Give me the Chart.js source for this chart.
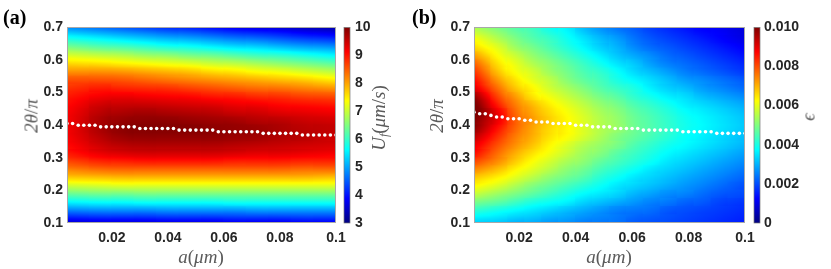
<!DOCTYPE html>
<html><head><meta charset="utf-8">
<script src="https://cdn.jsdelivr.net/npm/chart.js@4.4.1/dist/chart.umd.min.js"></script>
<style>
html,body{margin:0;padding:0;background:#fff;}
#wrap{position:relative;width:831px;height:269px;overflow:hidden;}
canvas{position:absolute;top:0;}
.lbl{position:absolute;white-space:nowrap;font-family:'Liberation Serif','Times New Roman',serif;color:#5a5a5a;line-height:1;font-size:19px;}
.rot{transform:translate(-50%,-50%) rotate(-90deg);}
.ctr{transform:translate(-50%,-50%);}
.lbl i{font-style:italic;}
.panel{font-weight:bold;color:#000;font-size:20px;}
sub{font-size:12px;vertical-align:-3px;}
</style></head>
<body><div id="wrap">
<canvas id="ca" width="411" height="269" style="left:0"></canvas>
<canvas id="cbv" width="420" height="269" style="left:411px"></canvas>
<div class="lbl panel" style="left:3px;top:7px">(a)</div>
<div class="lbl panel" style="left:412px;top:7px">(b)</div>
<div class="lbl rot" style="left:31px;top:116px"><i>2θ</i>/<i>π</i></div>
<div class="lbl ctr" style="left:201px;top:256px"><i>a</i>(<i>μm</i>)</div>
<div class="lbl rot" style="left:379px;top:118px"><i>U<sub>f</sub></i>(<i>μm</i>/<i>s</i>)</div>
<div class="lbl rot" style="left:436px;top:116px"><i>2θ</i>/<i>π</i></div>
<div class="lbl ctr" style="left:609px;top:256px"><i>a</i>(<i>μm</i>)</div>
<div class="lbl rot" style="left:808px;top:117px"><i>ϵ</i></div>
</div>
<script>
// ---- data ----
const yEdges = [0.1,0.125,0.15,0.175,0.2,0.225,0.25,0.275,0.3,0.325,0.35,0.375,0.4,0.425,0.45,0.475,0.5,0.525,0.55,0.575,0.6,0.625,0.65,0.675,0.7];
const aCols = [0.008,0.016,0.024,0.032,0.040,0.048,0.056,0.064,0.072,0.080,0.088,0.096];
const bCols = [0.007,0.013,0.019,0.025,0.031,0.037,0.043,0.049,0.055,0.061,0.067,0.073,0.079,0.085,0.091,0.097];
// U_f (um/s), rows bottom -> top
const uGrid = [
[3.95,4.0,4.0,4.0,4.05,4.05,4.05,4.1,4.1,4.1,4.15,4.15],
[4.75,4.8,4.8,4.8,4.85,4.85,4.85,4.85,4.9,4.9,4.9,4.9],
[5.55,5.6,5.6,5.65,5.65,5.65,5.65,5.7,5.7,5.7,5.7,5.7],
[6.3,6.35,6.35,6.4,6.4,6.4,6.4,6.4,6.4,6.4,6.4,6.4],
[7.0,7.05,7.1,7.1,7.1,7.1,7.1,7.1,7.1,7.1,7.1,7.1],
[7.7,7.75,7.8,7.8,7.8,7.8,7.8,7.8,7.8,7.8,7.8,7.75],
[8.25,8.35,8.4,8.4,8.4,8.4,8.4,8.4,8.4,8.4,8.35,8.35],
[8.7,8.85,8.9,8.95,8.95,8.95,8.95,8.9,8.9,8.9,8.85,8.85],
[9.05,9.25,9.35,9.4,9.4,9.4,9.4,9.35,9.3,9.3,9.25,9.2],
[9.2,9.45,9.6,9.65,9.65,9.65,9.65,9.6,9.55,9.5,9.45,9.4],
[9.3,9.6,9.8,9.85,9.85,9.85,9.85,9.8,9.75,9.65,9.6,9.5],
[9.35,9.7,9.9,9.95,9.95,9.95,9.9,9.85,9.8,9.7,9.6,9.55],
[9.35,9.7,9.85,9.9,9.9,9.85,9.8,9.75,9.65,9.6,9.5,9.45],
[9.3,9.6,9.7,9.75,9.7,9.65,9.6,9.5,9.45,9.35,9.3,9.25],
[9.2,9.45,9.5,9.5,9.45,9.4,9.35,9.25,9.2,9.1,9.05,9.0],
[9.05,9.2,9.25,9.2,9.15,9.1,9.0,8.95,8.85,8.8,8.7,8.65],
[8.85,8.95,8.9,8.85,8.8,8.7,8.6,8.5,8.4,8.35,8.25,8.15],
[8.6,8.6,8.55,8.45,8.35,8.25,8.15,8.05,7.95,7.85,7.75,7.6],
[8.15,8.15,8.1,8.0,7.9,7.8,7.65,7.55,7.4,7.3,7.15,7.0],
[7.65,7.6,7.5,7.4,7.3,7.2,7.05,6.95,6.8,6.65,6.5,6.35],
[7.1,7.0,6.9,6.75,6.65,6.5,6.4,6.25,6.1,6.0,5.85,5.7],
[6.45,6.3,6.2,6.05,5.9,5.8,5.65,5.5,5.4,5.25,5.1,5.0],
[5.8,5.65,5.5,5.35,5.2,5.1,4.95,4.8,4.7,4.55,4.4,4.3],
[5.1,4.95,4.8,4.65,4.5,4.4,4.25,4.1,4.0,3.9,3.75,3.65]
];
// epsilon, rows bottom -> top
const epsGrid = [
[0.0035,0.0034,0.0032,0.0031,0.0029,0.0028,0.0026,0.0025,0.0024,0.0022,0.0021,0.0020,0.0019,0.0018,0.0017,0.0016],
[0.0041,0.0039,0.0037,0.0035,0.0033,0.0031,0.0029,0.0027,0.0025,0.0024,0.0023,0.0021,0.0020,0.0019,0.0018,0.0017],
[0.0048,0.0046,0.0043,0.0040,0.0038,0.0036,0.0033,0.0031,0.0029,0.0027,0.0025,0.0024,0.0022,0.0021,0.0019,0.0018],
[0.0055,0.0052,0.0049,0.0046,0.0043,0.0040,0.0037,0.0035,0.0033,0.0030,0.0028,0.0026,0.0025,0.0023,0.0021,0.0020],
[0.0061,0.0058,0.0054,0.0050,0.0047,0.0044,0.0041,0.0038,0.0035,0.0033,0.0031,0.0029,0.0027,0.0025,0.0023,0.0021],
[0.0066,0.0063,0.0059,0.0055,0.0051,0.0048,0.0045,0.0041,0.0038,0.0035,0.0033,0.0031,0.0029,0.0027,0.0025,0.0023],
[0.0072,0.0068,0.0063,0.0059,0.0055,0.0051,0.0048,0.0044,0.0041,0.0038,0.0035,0.0033,0.0031,0.0029,0.0027,0.0025],
[0.0078,0.0073,0.0067,0.0062,0.0058,0.0054,0.0051,0.0047,0.0044,0.0041,0.0038,0.0035,0.0033,0.0031,0.0029,0.0027],
[0.0083,0.0076,0.0070,0.0065,0.0061,0.0057,0.0053,0.0050,0.0046,0.0043,0.0040,0.0037,0.0035,0.0033,0.0031,0.0029],
[0.0086,0.0079,0.0073,0.0068,0.0063,0.0059,0.0055,0.0052,0.0049,0.0045,0.0042,0.0039,0.0037,0.0035,0.0033,0.0031],
[0.0090,0.0082,0.0075,0.0070,0.0065,0.0062,0.0058,0.0054,0.0050,0.0047,0.0044,0.0041,0.0038,0.0036,0.0034,0.0032],
[0.0094,0.0085,0.0077,0.0071,0.0066,0.0063,0.0059,0.0055,0.0052,0.0048,0.0045,0.0042,0.0039,0.0037,0.0035,0.0033],
[0.0096,0.0088,0.0078,0.0072,0.0067,0.0063,0.0059,0.0055,0.0052,0.0048,0.0045,0.0042,0.0039,0.0037,0.0035,0.0033],
[0.0098,0.0088,0.0077,0.0071,0.0066,0.0062,0.0058,0.0054,0.0051,0.0047,0.0044,0.0041,0.0038,0.0036,0.0034,0.0032],
[0.0096,0.0084,0.0075,0.0069,0.0064,0.0060,0.0056,0.0052,0.0049,0.0045,0.0042,0.0039,0.0036,0.0034,0.0032,0.0030],
[0.0092,0.0080,0.0072,0.0065,0.0061,0.0057,0.0053,0.0049,0.0046,0.0042,0.0039,0.0036,0.0034,0.0031,0.0029,0.0027],
[0.0086,0.0076,0.0068,0.0063,0.0058,0.0054,0.0050,0.0046,0.0043,0.0040,0.0036,0.0033,0.0031,0.0028,0.0026,0.0024],
[0.0082,0.0072,0.0065,0.0060,0.0056,0.0051,0.0047,0.0044,0.0040,0.0037,0.0034,0.0031,0.0028,0.0026,0.0024,0.0022],
[0.0078,0.0068,0.0062,0.0058,0.0053,0.0049,0.0045,0.0042,0.0038,0.0034,0.0031,0.0028,0.0025,0.0023,0.0021,0.0019],
[0.0074,0.0065,0.0060,0.0055,0.0051,0.0047,0.0043,0.0039,0.0035,0.0032,0.0028,0.0025,0.0023,0.0021,0.0019,0.0017],
[0.0069,0.0062,0.0057,0.0052,0.0048,0.0044,0.0040,0.0036,0.0032,0.0029,0.0026,0.0023,0.0021,0.0019,0.0017,0.0015],
[0.0064,0.0059,0.0053,0.0049,0.0045,0.0041,0.0037,0.0033,0.0030,0.0026,0.0023,0.0021,0.0019,0.0017,0.0015,0.0013],
[0.0060,0.0055,0.0050,0.0046,0.0043,0.0039,0.0035,0.0031,0.0028,0.0024,0.0021,0.0019,0.0017,0.0015,0.0013,0.0011],
[0.0055,0.0051,0.0047,0.0044,0.0040,0.0037,0.0032,0.0028,0.0025,0.0022,0.0019,0.0017,0.0015,0.0013,0.0012,0.0010]
];
// optimal-angle dots
const dotX = [0.004,0.006,0.008,0.010,0.012,0.014,0.016,0.018,0.020,0.022,0.024,0.026,0.028,0.030,0.032,0.034,0.036,0.038,0.040,0.042,0.044,0.046,0.048,0.050,0.052,0.054,0.056,0.058,0.060,0.062,0.064,0.066,0.068,0.070,0.072,0.074,0.076,0.078,0.080,0.082,0.084,0.086,0.088,0.090,0.092,0.094,0.096,0.098,0.100];
const dotYa = [0.405,0.405,0.400,0.400,0.400,0.400,0.395,0.395,0.395,0.395,0.395,0.395,0.395,0.390,0.390,0.390,0.390,0.390,0.390,0.390,0.385,0.385,0.385,0.385,0.385,0.385,0.385,0.380,0.380,0.380,0.380,0.380,0.380,0.380,0.380,0.375,0.375,0.375,0.375,0.375,0.375,0.375,0.370,0.370,0.370,0.370,0.370,0.370,0.370];
const dotYb = [0.440,0.435,0.435,0.430,0.425,0.425,0.420,0.420,0.420,0.415,0.415,0.410,0.410,0.410,0.405,0.405,0.405,0.405,0.400,0.400,0.400,0.395,0.395,0.395,0.395,0.390,0.390,0.390,0.390,0.390,0.385,0.385,0.385,0.385,0.385,0.385,0.385,0.380,0.380,0.380,0.380,0.380,0.380,0.375,0.375,0.375,0.375,0.375,0.375];
// ticks
const xTicks = [0.02,0.04,0.06,0.08,0.1];
const xTickLabels = ['0.02','0.04','0.06','0.08','0.1'];
const yTicks = [0.1,0.2,0.3,0.4,0.5,0.6,0.7];
const yTickLabels = ['0.1','0.2','0.3','0.4','0.5','0.6','0.7'];
const cbTicksA = [3,4,5,6,7,8,9,10];
const cbLabelsA = ['3','4','5','6','7','8','9','10'];
const cbTicksB = [0,0.002,0.004,0.006,0.008,0.01];
const cbLabelsB = ['0','0.002','0.004','0.006','0.008','0.010'];

// ---- rendering ----
function jet(t){
  t = Math.max(0, Math.min(1, t));
  const c = v => Math.round(255 * Math.max(0, Math.min(1, v)));
  return 'rgb(' + c(1.5 - Math.abs(4*t - 3)) + ',' + c(1.5 - Math.abs(4*t - 2)) + ',' + c(1.5 - Math.abs(4*t - 1)) + ')';
}
const tickFont = {family: "'Liberation Sans', Arial, sans-serif", size: 14, weight: 'bold'};
const tickColor = '#262626';

// interpolated shading of each cell (like "shading interp"), built from the cell's own value
// and its neighbours' values; positions come from the chart scales.
function cellShade(grid, cols, vmin, vmax){
  const rowMid = i => (yEdges[i] + yEdges[i+1]) / 2;
  const norm = v => (v - vmin) / (vmax - vmin);
  return function(c){
    const i = c.datasetIndex, j = c.dataIndex, chart = c.chart;
    const v = (grid[i] && j !== undefined) ? grid[i][j] : undefined;
    if (v === undefined) return '#ffffff';
    const xs = chart.scales.x, ys = chart.scales.y;
    if (!xs || !ys || !chart.chartArea) return jet(norm(v));
    const nC = cols.length, nR = grid.length;
    const jl = Math.max(0, j-1), jr = Math.min(nC-1, j+1);
    const il = Math.max(0, i-1), ir = Math.min(nR-1, i+1);
    const gx = (grid[i][jr] - grid[i][jl]) / (xs.getPixelForValue(cols[jr]) - xs.getPixelForValue(cols[jl]));
    const gy = (grid[ir][j] - grid[il][j]) / (ys.getPixelForValue(rowMid(ir)) - ys.getPixelForValue(rowMid(il)));
    const m = Math.hypot(gx, gy);
    if (!(m > 1e-12)) return jet(norm(v));
    const ux = gx / m, uy = gy / m;
    const w = Math.abs(xs.getPixelForValue(cols[1]) - xs.getPixelForValue(cols[0]));
    const h = Math.abs(ys.getPixelForValue(yEdges[i+1]) - ys.getPixelForValue(yEdges[i]));
    const e = Math.abs(ux) * (w/2 + 1) + Math.abs(uy) * (h/2 + 1);
    const cx = xs.getPixelForValue(cols[j]), cy = ys.getPixelForValue(rowMid(i));
    const g = chart.ctx.createLinearGradient(cx - ux*e, cy - uy*e, cx + ux*e, cy + uy*e);
    for (let k = 0; k <= 8; k++){ const t = k / 8; g.addColorStop(t, jet(norm(v + m*e*(2*t - 1)))); }
    return g;
  };
}

const boxPlugin = {
  id: 'box',
  afterDatasetsDraw(chart){
    const {ctx, chartArea: a} = chart;
    ctx.save();
    ctx.strokeStyle = '#a8a8a8';
    ctx.lineWidth = 1;
    ctx.strokeRect(Math.round(a.left) + 0.5, Math.round(a.top) + 0.5, Math.round(a.right - a.left) - 1, Math.round(a.bottom - a.top) - 1);
    ctx.restore();
  }
};
const colorbarPlugin = {
  id: 'colorbar',
  afterDraw(chart, args, opts){
    const s = chart.scales.cb, a = chart.chartArea, ctx = chart.ctx;
    const x0 = a.right + opts.gap;
    const top = s.getPixelForValue(s.max), bot = s.getPixelForValue(s.min);
    const g = ctx.createLinearGradient(0, bot, 0, top);
    [[0,'#000080'],[0.125,'#0000ff'],[0.375,'#00ffff'],[0.625,'#ffff00'],[0.875,'#ff0000'],[1,'#800000']].forEach(([t,c]) => g.addColorStop(t, c));
    ctx.save();
    ctx.fillStyle = g;
    ctx.fillRect(x0, top, opts.width, bot - top);
    ctx.strokeStyle = '#7a7a7a';
    ctx.lineWidth = 0.7;
    ctx.strokeRect(x0, top, opts.width, bot - top);
    ctx.restore();
  }
};

function setTicks(list){ return s => { s.ticks = list.map(v => ({value: v})); }; }

function makePanel(id, cols, grid, vmin, vmax, dotsY, cbTicks, cbLabels, leftW, rightW, gap){
  const shade = cellShade(grid, cols, vmin, vmax);
  const datasets = grid.map((row, i) => ({
    type: 'bar',
    data: cols.map(x => ({x: x, y: [yEdges[i], yEdges[i+1]]})),
    backgroundColor: shade,
    borderWidth: 0,
    grouped: false,
    barPercentage: 1,
    categoryPercentage: 1,
    inflateAmount: 0.6,
    order: 1,
    xAxisID: 'x', yAxisID: 'y'
  }));
  datasets.push({
    type: 'line',
    data: dotX.map((x, k) => ({x: x, y: dotsY[k]})),
    showLine: false,
    pointRadius: 1.8,
    pointHoverRadius: 1.8,
    pointBackgroundColor: '#ffffff',
    pointBorderWidth: 0,
    borderColor: '#ffffff',
    order: 0,
    clip: 0,
    xAxisID: 'x', yAxisID: 'y'
  });
  return new Chart(document.getElementById(id), {
    type: 'bar',
    data: {datasets},
    options: {
      responsive: false,
      animation: false,
      devicePixelRatio: 1,
      events: [],
      layout: {padding: {top: 12, left: 0, right: 0, bottom: 0}},
      plugins: {legend: {display: false}, tooltip: {enabled: false}, colorbar: {gap: gap, width: 6}},
      scales: {
        x: {
          type: 'linear', position: 'bottom', min: 0.004, max: 0.1, offset: false,
          grid: {display: false, drawTicks: false}, border: {display: false},
          afterBuildTicks: setTicks(xTicks),
          afterFit: s => { s.height = 46; },
          ticks: {autoSkip: false, maxRotation: 0, padding: 7, color: tickColor, font: tickFont, callback: (v, i) => xTickLabels[i]}
        },
        y: {
          type: 'linear', position: 'left', min: 0.1, max: 0.7,
          grid: {display: false, drawTicks: false}, border: {display: false},
          afterBuildTicks: setTicks(yTicks),
          afterFit: s => { s.width = leftW; },
          ticks: {autoSkip: false, padding: 4, color: tickColor, font: tickFont, callback: (v, i) => yTickLabels[i]}
        },
        cb: {
          type: 'linear', axis: 'y', position: 'right', min: vmin, max: vmax,
          grid: {display: false, drawTicks: false}, border: {display: false},
          afterBuildTicks: setTicks(cbTicks),
          afterFit: s => { s.width = rightW; },
          ticks: {autoSkip: false, padding: 19, color: tickColor, font: tickFont, callback: (v, i) => cbLabels[i]}
        }
      }
    },
    plugins: [boxPlugin, colorbarPlugin]
  });
}

makePanel('ca', aCols, uGrid, 3, 10, dotYa, cbTicksA, cbLabelsA, 67, 75, 8);
makePanel('cbv', bCols, epsGrid, 0, 0.01, dotYb, cbTicksB, cbLabelsB, 63, 86, 9);
</script>
</body></html>
